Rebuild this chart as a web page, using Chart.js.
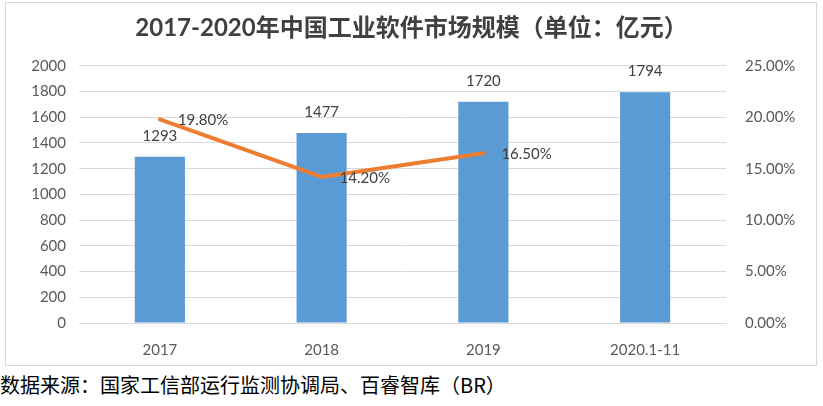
<!DOCTYPE html>
<html>
<head>
<meta charset="utf-8">
<script src="https://cdn.jsdelivr.net/npm/chart.js@4"></script>
<style>
  html, body { margin: 0; padding: 0; background: #fff; }
  #wrap { position: relative; width: 823px; height: 406px; overflow: hidden; }
  #frame { position: absolute; left: 5px; top: 2px; width: 812px; height: 364px; border: 1px solid #d9d9d9; box-sizing: border-box; }
  #cv { position: absolute; left: 0; top: 0; }
  #src { position: absolute; left: 0; top: 372px; font-family: "Noto Sans CJK SC", sans-serif; font-size: 20px; color: #000; white-space: nowrap; line-height: 26px; }
</style>
</head>
<body>
<div id="wrap">
  <div id="frame"></div>
  <canvas id="cv" width="823" height="370"></canvas>
  <div id="src">数据来源：国家工信部运行监测协调局、百睿智库（BR）</div>
</div>
<script>
const categories = ["2017", "2018", "2019", "2020.1-11"];
const marketSize = [1293, 1477, 1720, 1794];
const growthRate = [19.8, 14.2, 16.5, null];
const leftTicks = [0, 200, 400, 600, 800, 1000, 1200, 1400, 1600, 1800, 2000];
const rightTicks = [0, 5, 10, 15, 20, 25];
const titleText = "2017-2020年中国工业软件市场规模（单位：亿元）";

const numFont = "Lato, 'Noto Sans CJK SC', sans-serif";

const labelPlugin = {
  id: "labels",
  afterDatasetsDraw(chart) {
    const ctx = chart.ctx;
    ctx.save();
    ctx.font = "15px " + numFont;
    ctx.fillStyle = "#404040";
    const barMeta = chart.getDatasetMeta(0);
    barMeta.data.forEach((el, i) => {
      ctx.textAlign = "center";
      ctx.textBaseline = "middle";
      ctx.fillText(String(marketSize[i]), el.x, el.y - 21);
    });
    const lineMeta = chart.getDatasetMeta(1);
    lineMeta.data.forEach((el, i) => {
      if (growthRate[i] === null) return;
      ctx.textAlign = "left";
      ctx.textBaseline = "middle";
      ctx.fillText(growthRate[i].toFixed(2) + "%", el.x + 18, el.y + 1);
    });
    ctx.restore();
  }
};

new Chart(document.getElementById("cv"), {
  data: {
    labels: categories,
    datasets: [
      {
        type: "bar",
        data: marketSize,
        backgroundColor: "#5B9BD5",
        yAxisID: "y",
        barPercentage: 0.62,
        categoryPercentage: 0.5,
        order: 2
      },
      {
        type: "line",
        data: growthRate,
        borderColor: "#ED7D31",
        borderWidth: 4,
        borderCapStyle: "round",
        borderJoinStyle: "round",
        pointRadius: 0,
        pointHoverRadius: 0,
        tension: 0,
        spanGaps: false,
        yAxisID: "y1",
        order: 1
      }
    ]
  },
  options: {
    responsive: false,
    animation: false,
    events: [],
    layout: { padding: 0 },
    plugins: {
      legend: { display: false },
      tooltip: { enabled: false },
      title: {
        display: true,
        text: titleText,
        color: "#404040",
        font: { family: numFont, size: 24, weight: "bold", lineHeight: 1.2 },
        padding: { top: 14, bottom: 23 }
      }
    },
    scales: {
      x: {
        grid: { display: false },
        border: { display: true, color: "#d9d9d9" },
        ticks: { color: "#595959", font: { family: numFont, size: 15 }, padding: 10 },
        afterFit(scale) { scale.height = 47; }
      },
      y: {
        position: "left",
        min: 0, max: 2000,
        afterBuildTicks(scale) { scale.ticks = leftTicks.map(v => ({ value: v })); },
        grid: { color: "#d9d9d9", drawTicks: false },
        border: { display: false },
        ticks: {
          color: "#595959", font: { family: numFont, size: 15 }, padding: 13,
          callback: v => String(v)
        },
        afterFit(scale) { scale.width = 79; }
      },
      y1: {
        position: "right",
        min: 0, max: 25,
        afterBuildTicks(scale) { scale.ticks = rightTicks.map(v => ({ value: v })); },
        grid: { display: false },
        border: { display: false },
        ticks: {
          color: "#595959", font: { family: numFont, size: 15 }, padding: 11,
          callback: v => v.toFixed(2) + "%"
        },
        afterFit(scale) { scale.width = 97; }
      }
    }
  },
  plugins: [labelPlugin]
});
</script>
</body>
</html>
